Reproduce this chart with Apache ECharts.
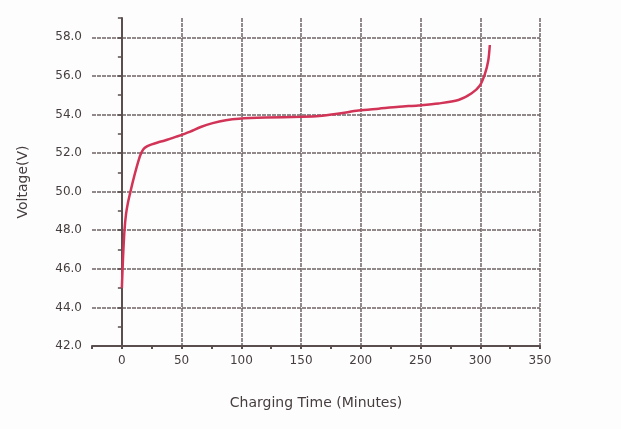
<!DOCTYPE html>
<html>
<head>
<meta charset="utf-8">
<script src="https://cdn.jsdelivr.net/npm/echarts@6/dist/echarts.min.js"></script>
<style>html,body{margin:0;padding:0;background:#fdfdfd;}#c{width:621px;height:429px;}</style>
</head>
<body>
<div id="c"></div>
<script>
const timeMinutes = [0, 0.6, 1.3, 2.2, 3.4, 5, 7, 9.5, 12.5, 15.5, 18, 21, 25, 30, 36, 45.6, 56.7, 66, 76, 87, 98, 120, 150, 165, 182, 198, 215, 232, 248, 265, 281.7, 292.8, 299.7, 303.9, 306.7, 308];
const voltage    = [45.0, 46.0, 47.0, 48.0, 48.8, 49.4, 49.95, 50.6, 51.3, 51.9, 52.2, 52.35, 52.45, 52.55, 52.65, 52.85, 53.1, 53.35, 53.55, 53.7, 53.78, 53.84, 53.88, 53.92, 54.05, 54.2, 54.3, 54.4, 54.47, 54.57, 54.75, 55.1, 55.5, 56.1, 56.8, 57.6];
const xTicks = [0, 50, 100, 150, 200, 250, 300, 350];
const yTicks = ['42.0','44.0','46.0','48.0','50.0','52.0','54.0','56.0','58.0'];

const gridColor = '#6f6464';
const axisColor = '#5a4e4e';
const textColor = '#463e3e';
const font = 'DejaVu Sans';

const chart = echarts.init(document.getElementById('c'), null, {renderer: 'canvas'});
chart.setOption({
  backgroundColor: '#fdfdfd',
  animation: false,
  grid: {left: 92, right: 81, top: 18, bottom: 83, containLabel: false},
  xAxis: {
    type: 'value', min: -25, max: 350, interval: 25,
    name: 'Charging Time (Minutes)', nameLocation: 'middle', nameGap: 50,
    nameTextStyle: {color: textColor, fontSize: 14, fontFamily: font},
    axisLine: {show: true, lineStyle: {color: axisColor, width: 2}},
    axisTick: {show: true, length: 3, inside: false, lineStyle: {color: axisColor, width: 2}},
    axisLabel: {color: textColor, fontSize: 12, fontFamily: font, margin: 9,
      formatter: v => xTicks.indexOf(v) >= 0 ? String(v) : ''},
    splitLine: {show: true, lineStyle: {color: ['rgba(0,0,0,0)', gridColor], width: 1.5, type: [4, 1]}}
  },
  yAxis: {
    type: 'value', min: 42, max: 59, interval: 1,
    name: 'Voltage(V)', nameLocation: 'middle', nameGap: 62,
    nameTextStyle: {color: textColor, fontSize: 14, fontFamily: font},
    axisLine: {show: true, lineStyle: {color: axisColor, width: 2}},
    axisTick: {show: true, length: 4, lineStyle: {color: axisColor, width: 1.5}},
    axisLabel: {color: textColor, fontSize: 12, fontFamily: font, margin: 10,
      formatter: v => { const s = v.toFixed(1); return yTicks.indexOf(s) >= 0 ? s : ''; }},
    splitLine: {show: true, lineStyle: {color: [gridColor, 'rgba(0,0,0,0)'], width: 1.5, type: [4, 1]}}
  },
  series: [{
    type: 'line', smooth: 0.3, showSymbol: false,
    data: timeMinutes.map((t, i) => [t, voltage[i]]),
    lineStyle: {color: '#d23457', width: 2.5}
  }]
});
</script>
</body>
</html>
